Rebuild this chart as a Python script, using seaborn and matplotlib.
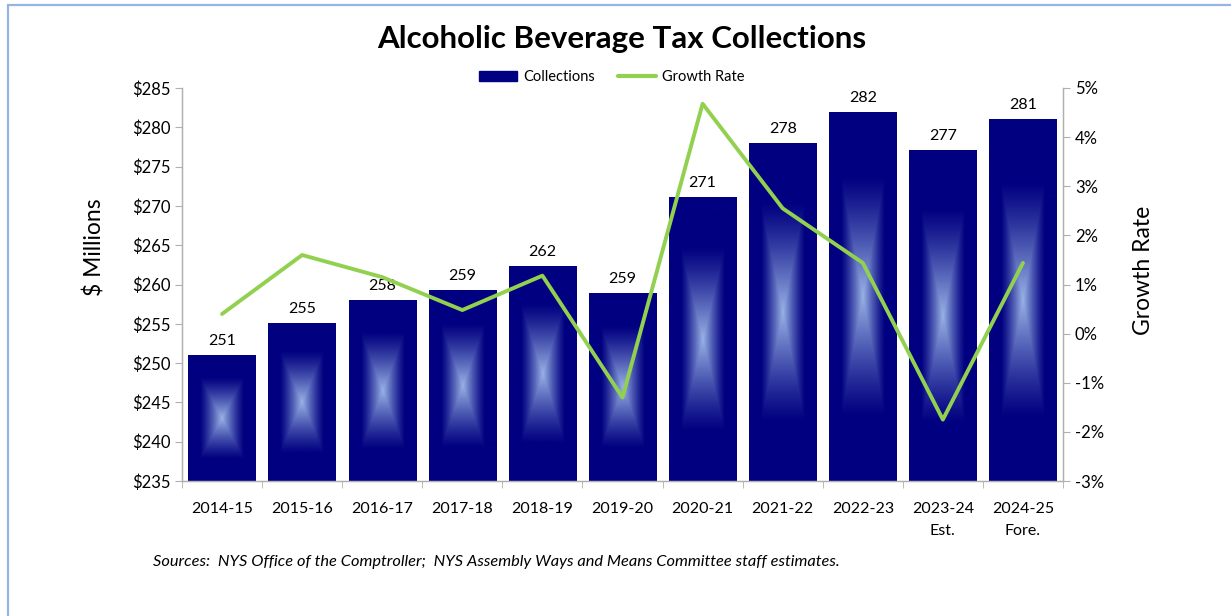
import matplotlib
matplotlib.use("Agg")
import matplotlib.pyplot as plt
import seaborn as sns
import numpy as np
from matplotlib.patches import Patch, Rectangle
from matplotlib.lines import Line2D
from matplotlib.ticker import FuncFormatter, MultipleLocator, FixedLocator

years = ["2014-15", "2015-16", "2016-17", "2017-18", "2018-19", "2019-20",
         "2020-21", "2021-22", "2022-23", "2023-24\nEst.", "2024-25\nFore."]
collections = [251.0, 255.1, 258.0, 259.3, 262.3, 258.9, 271.1, 278.0, 282.0, 277.1, 281.1]
labels = ["251", "255", "258", "259", "262", "259", "271", "278", "282", "277", "281"]
growth = [0.40, 1.60, 1.15, 0.48, 1.18, -1.30, 4.68, 2.55, 1.44, -1.75, 1.44]

navy = "#000080"
green = "#92D050"
axis_grey = "#B0B0B0"

sns.set_style("white")
plt.rcParams["font.family"] = ["Lato", "DejaVu Sans"]
plt.rcParams["text.color"] = "black"
plt.rcParams["axes.labelcolor"] = "black"
plt.rcParams["xtick.labelcolor"] = "black"
plt.rcParams["ytick.labelcolor"] = "black"

fig = plt.figure(figsize=(12.31, 6.16), dpi=100)
ax = fig.add_axes([182 / 1231, 1 - 481 / 616, (1063 - 182) / 1231, (481 - 88) / 616])

sns.barplot(x=years, y=collections, color=navy, width=0.84, saturation=1, ax=ax)
ax.set_ylim(235, 285)
ax.set_xlim(-0.5, len(years) - 0.5)

# soft glow in the middle of each bar
ny, nx = 120, 60
yy, xx = np.mgrid[-1:1:ny * 1j, -1:1:nx * 1j]
d = np.maximum(np.abs(xx) / 0.66, np.abs(yy) / 0.66)
t = np.clip(1 - d, 0, 1) ** 1.2
base = np.array(matplotlib.colors.to_rgb(navy))
light = np.array([0.60, 0.70, 0.90])
img = base[None, None, :] * (1 - t[..., None]) + light[None, None, :] * t[..., None]
for p in ax.patches:
    x0 = p.get_x()
    w = p.get_width()
    top = p.get_height()
    im = ax.imshow(img, extent=[x0, x0 + w, 235, top], aspect="auto", zorder=p.get_zorder() + 0.1,
                   interpolation="bilinear")
    clip = Rectangle((x0, 235), w, top - 235, transform=ax.transData)
    im.set_clip_path(clip)
ax.set_xlim(-0.5, len(years) - 0.5)
ax.set_ylim(235, 285)

for i, (v, lab) in enumerate(zip(collections, labels)):
    ax.annotate(lab, (i, v), xytext=(0, 5), textcoords="offset points",
                ha="center", va="bottom", fontsize=11.5, color="black")

ax.yaxis.set_major_locator(MultipleLocator(5))
ax.yaxis.set_major_formatter(FuncFormatter(lambda v, _: f"${v:.0f}"))
ax.set_ylabel("$ Millions", fontsize=16.5)
ax.yaxis.set_label_coords(-0.087, 0.595)
ax.set_xlabel("")
ax.tick_params(axis="y", which="major", length=5, color=axis_grey, labelsize=12, direction="out", left=True)
ax.xaxis.set_minor_locator(FixedLocator(np.arange(-0.5, len(years), 1)))
ax.tick_params(axis="x", which="major", length=0, labelsize=11.5, pad=15)
ax.tick_params(axis="x", which="minor", length=5, color=axis_grey, direction="out", bottom=True)
for lab in ax.get_xticklabels():
    lab.set_linespacing(1.7)
ax.spines["top"].set_visible(False)
for s in ["left", "bottom", "right"]:
    ax.spines[s].set_color(axis_grey)
    ax.spines[s].set_linewidth(1)

ax2 = ax.twinx()
sns.lineplot(x=np.arange(len(growth)), y=growth, color=green, linewidth=2.8, ax=ax2)
ax2.set_ylim(-3, 5)
ax2.yaxis.set_major_locator(MultipleLocator(1))
ax2.yaxis.set_major_formatter(FuncFormatter(lambda v, _: f"{v:.0f}%"))
ax2.set_ylabel("Growth Rate", fontsize=16.5)
ax2.yaxis.set_label_coords(1.080, 0.537)
ax2.tick_params(axis="y", length=5, color=axis_grey, labelsize=12, direction="out", right=True)
ax2.spines["top"].set_visible(False)
for s in ["left", "bottom", "right"]:
    ax2.spines[s].set_color(axis_grey)

fig.suptitle("Alcoholic Beverage Tax Collections", fontsize=22.5, fontweight="bold", x=0.505, y=0.960)

handles = [Patch(facecolor=navy, edgecolor=navy), Line2D([], [], color=green, linewidth=3)]
fig.legend(handles, ["Collections", "Growth Rate"], loc="center", bbox_to_anchor=(0.497, 0.875),
           ncol=2, frameon=False, fontsize=10.5, handlelength=2.6, columnspacing=1.6, handletextpad=0.4)

fig.text(153 / 1231, 1 - 562 / 616, "Sources:  NYS Office of the Comptroller;  NYS Assembly Ways and Means Committee staff estimates.",
         fontsize=11.8, style="italic", va="center")

fig.patches.append(Rectangle((8 / 1231, -0.05), 1.1, 1 - 5 / 616 + 0.05, transform=fig.transFigure,
                             fill=False, edgecolor="#95B3E3", linewidth=1.6))

fig.savefig("out.png", dpi=100)
